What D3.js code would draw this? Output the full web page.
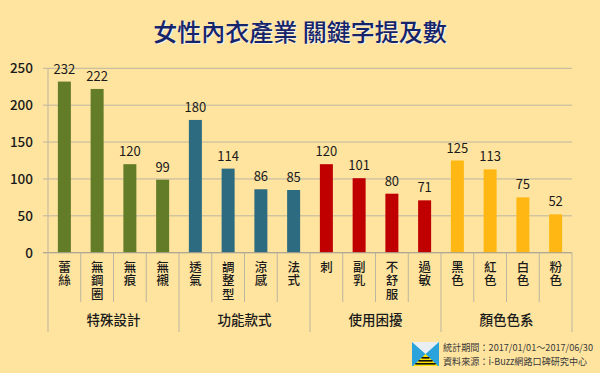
<!DOCTYPE html>
<html>
<head>
<meta charset="utf-8">
<script src="https://cdn.jsdelivr.net/npm/d3@7"></script>
<style>
  body { margin: 0; background: #ffe49f; }
  svg { display: block; }
</style>
</head>
<body>
<div id="chart"></div>
<script>
// data
var categories = ["蕾絲", "無鋼圈", "無痕", "無襯", "透氣", "調整型", "涼感", "法式",
    "刺", "副乳", "不舒服", "過敏", "黑色", "紅色", "白色", "粉色"];
var values = [232, 222, 120, 99, 180, 114, 86, 85, 120, 101, 80, 71, 125, 113, 75, 52];
var groups = ["特殊設計", "功能款式", "使用困擾", "顏色色系"];
var groupColors = ["#637c27", "#2c6b80", "#c00000", "#ffb713"];
var yTicks = [0, 50, 100, 150, 200, 250];

var width = 600;
var height = 373;
var plotLeft = 48, plotRight = 572;
var plotTop = 68.3, plotBottom = 252.7;
var font = "'Noto Sans CJK TC', 'Noto Sans', sans-serif";

var svg = d3.select("#chart")
    .append("svg")
    .attr("width", width)
    .attr("height", height);

svg.append("rect")
    .attr("width", width)
    .attr("height", height)
    .attr("fill", "#ffe49f");

// title (with light shadow behind)
var title = "女性內衣產業 關鍵字提及數";
svg.append("text")
    .attr("x", 301.5)
    .attr("y", 42)
    .attr("text-anchor", "middle")
    .attr("font-family", font)
    .attr("font-size", 24)
    .attr("font-weight", 500)
    .attr("fill", "#f4f1e6")
    .text(title);
svg.append("text")
    .attr("x", 300)
    .attr("y", 41)
    .attr("text-anchor", "middle")
    .attr("font-family", font)
    .attr("font-size", 24)
    .attr("font-weight", 500)
    .attr("fill", "#16256a")
    .text(title);

var xScale = d3.scaleBand()
    .domain(categories)
    .range([plotLeft, plotRight])
    .padding(0);

var yScale = d3.scaleLinear()
    .domain([0, 250])
    .range([plotBottom, plotTop]);

// grid
svg.append("g")
    .selectAll("line")
    .data(yTicks)
    .enter()
    .append("line")
    .attr("x1", plotLeft - 5)
    .attr("x2", plotRight)
    .attr("y1", function(d) { return yScale(d); })
    .attr("y2", function(d) { return yScale(d); })
    .attr("stroke", "#bcb5a0")
    .attr("stroke-width", 1);

// y labels
var yAxis = d3.axisLeft(yScale).tickValues(yTicks).tickSize(0).tickPadding(15);
var yg = svg.append("g")
    .attr("transform", "translate(" + plotLeft + ",0)")
    .call(yAxis);
yg.select(".domain").remove();
yg.selectAll("text")
    .attr("font-family", font)
    .attr("font-size", 13.5)
    .attr("font-weight", 500)
    .attr("fill", "#1a1a1a");

// bars
var barW = 13;
svg.append("g")
    .selectAll("rect")
    .data(values)
    .enter()
    .append("rect")
    .attr("x", function(d, i) { return xScale(categories[i]) + xScale.bandwidth() / 2 - barW / 2; })
    .attr("y", function(d) { return yScale(d); })
    .attr("width", barW)
    .attr("height", function(d) { return plotBottom - yScale(d); })
    .attr("fill", function(d, i) { return groupColors[Math.floor(i / 4)]; });

// value labels
svg.append("g")
    .selectAll("text")
    .data(values)
    .enter()
    .append("text")
    .attr("x", function(d, i) { return xScale(categories[i]) + xScale.bandwidth() / 2; })
    .attr("y", function(d) { return yScale(d) - 8; })
    .attr("text-anchor", "middle")
    .attr("font-family", font)
    .attr("font-size", 13)
    .attr("fill", "#1a1a1a")
    .text(function(d) { return d; });

// axis + separators
svg.append("line")
    .attr("x1", plotLeft - 5).attr("x2", plotRight)
    .attr("y1", plotBottom).attr("y2", plotBottom)
    .attr("stroke", "#a8a28e");

var edges = categories.map(function(c) { return xScale(c); }).concat([plotRight]);
svg.append("g")
    .selectAll("line")
    .data(edges)
    .enter()
    .append("line")
    .attr("x1", function(d) { return d; })
    .attr("x2", function(d) { return d; })
    .attr("y1", function(d, i) { return i === 0 ? plotTop : plotBottom; })
    .attr("y2", function(d, i) { return i % 4 === 0 ? 332 : 302; })
    .attr("stroke", "#bcb5a0");

// category labels, written vertically
svg.append("g")
    .selectAll("text")
    .data(categories)
    .enter()
    .append("text")
    .attr("x", function(d) { return xScale(d) + xScale.bandwidth() / 2; })
    .attr("y", 261)
    .style("writing-mode", "vertical-rl")
    .style("letter-spacing", "0.8px")
    .attr("font-family", font)
    .attr("font-size", 12.5)
    .attr("font-weight", 500)
    .attr("fill", "#1a1a1a")
    .text(function(d) { return d; });

// group labels
svg.append("g")
    .selectAll("text")
    .data(groups)
    .enter()
    .append("text")
    .attr("x", function(d, i) { return (edges[i * 4] + edges[i * 4 + 4]) / 2; })
    .attr("y", 325)
    .attr("text-anchor", "middle")
    .attr("font-family", font)
    .attr("font-size", 13.5)
    .attr("font-weight", 500)
    .attr("fill", "#1a1a1a")
    .text(function(d) { return d; });

// source logo
var logo = svg.append("g").attr("transform", "translate(412,342)");
logo.append("rect").attr("width", 27).attr("height", 24).attr("fill", "#2aa3dc");
logo.append("path").attr("d", "M0,0 L27,0 L13.5,12 Z").attr("fill", "#e8eef2");
logo.append("path").attr("d", "M13.5,12 L1,24 L26,24 Z").attr("fill", "#ffe000");
[15, 18, 21].forEach(function(y) {
    var hw = (y - 12) / 12 * 12.5 + 0.8;
    logo.append("rect")
        .attr("x", 13.5 - hw).attr("y", y)
        .attr("width", hw * 2).attr("height", 1.6)
        .attr("fill", "#111");
});

// source note, squeezed horizontally to fit like the original
var src = ["統計期間：2017/01/01～2017/06/30", "資料來源：i-Buzz網路口碑研究中心"];
var srcWidths = [150, 144];
src.forEach(function(s, i) {
    var g = svg.append("g");
    var t = g.append("text")
        .attr("x", 0)
        .attr("y", 0)
        .attr("font-family", font)
        .attr("font-size", 9.6)
        .attr("fill", "#3a3a3a")
        .text(s);
    var len = t.node().getComputedTextLength();
    g.attr("transform", "translate(443," + (350.5 + i * 14) + ") scale(" + (srcWidths[i] / len) + ",1)");
});
</script>
</body>
</html>
